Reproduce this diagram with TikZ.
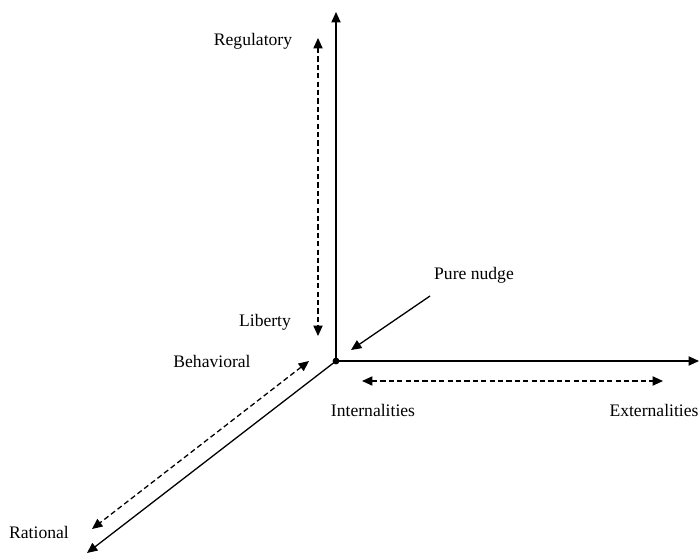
\documentclass[tikz,border=0pt]{standalone}
\usepackage{fontspec}
\setmainfont{Liberation Serif}
\usetikzlibrary{arrows.meta}
\begin{document}
\begin{tikzpicture}[x=0.5pt,y=-0.5pt,
  tip/.style={},
  axisline/.style={line width=0.65pt,-{Triangle[length=5.2pt,width=4.6pt]}},
  dashrange/.style={line width=0.65pt,dash pattern=on 2.6pt off 1.6pt,{Triangle[length=5.2pt,width=4.6pt]}-{Triangle[length=5.2pt,width=4.6pt]}},
  lbl/.style={font=\fontsize{8.8pt}{10.5pt}\selectfont,inner sep=0pt}]
\useasboundingbox (0,0) rectangle (699,555);
\coordinate (O) at (336,361);
\coordinate (Ytop) at (336,12);
\coordinate (Xend) at (699,361);
\coordinate (Zend) at (87,553);
\coordinate (Va) at (318,38);
\coordinate (Vb) at (318,336);
\coordinate (Ha) at (362,381);
\coordinate (Hb) at (663,381);
\coordinate (Da) at (309,361);
\coordinate (Db) at (92,529);
\coordinate (Pa) at (430,296);
\coordinate (Pb) at (351,350);
\draw[axisline] (O) -- (Ytop);
\draw[axisline] (O) -- (Xend);
\draw[axisline] (O) -- (Zend);
\draw[dashrange] (Va) -- (Vb);
\draw[dashrange] (Ha) -- (Hb);
\draw[dashrange] (Da) -- (Db);
\draw[axisline] (Pa) -- (Pb);
\fill (O) circle (1.7pt);
\node[lbl] (reg) at (253,41) {Regulatory};
\node[lbl] (lib) at (265,322) {Liberty};
\node[lbl] (beh) at (212,361) {Behavioral};
\node[lbl] (pure) at (474,275) {Pure nudge};
\node[lbl] (int) at (373,410) {Internalities};
\node[lbl] (ext) at (654,410) {Externalities};
\node[lbl] (rat) at (39,532) {Rational};
\end{tikzpicture}
\end{document}
